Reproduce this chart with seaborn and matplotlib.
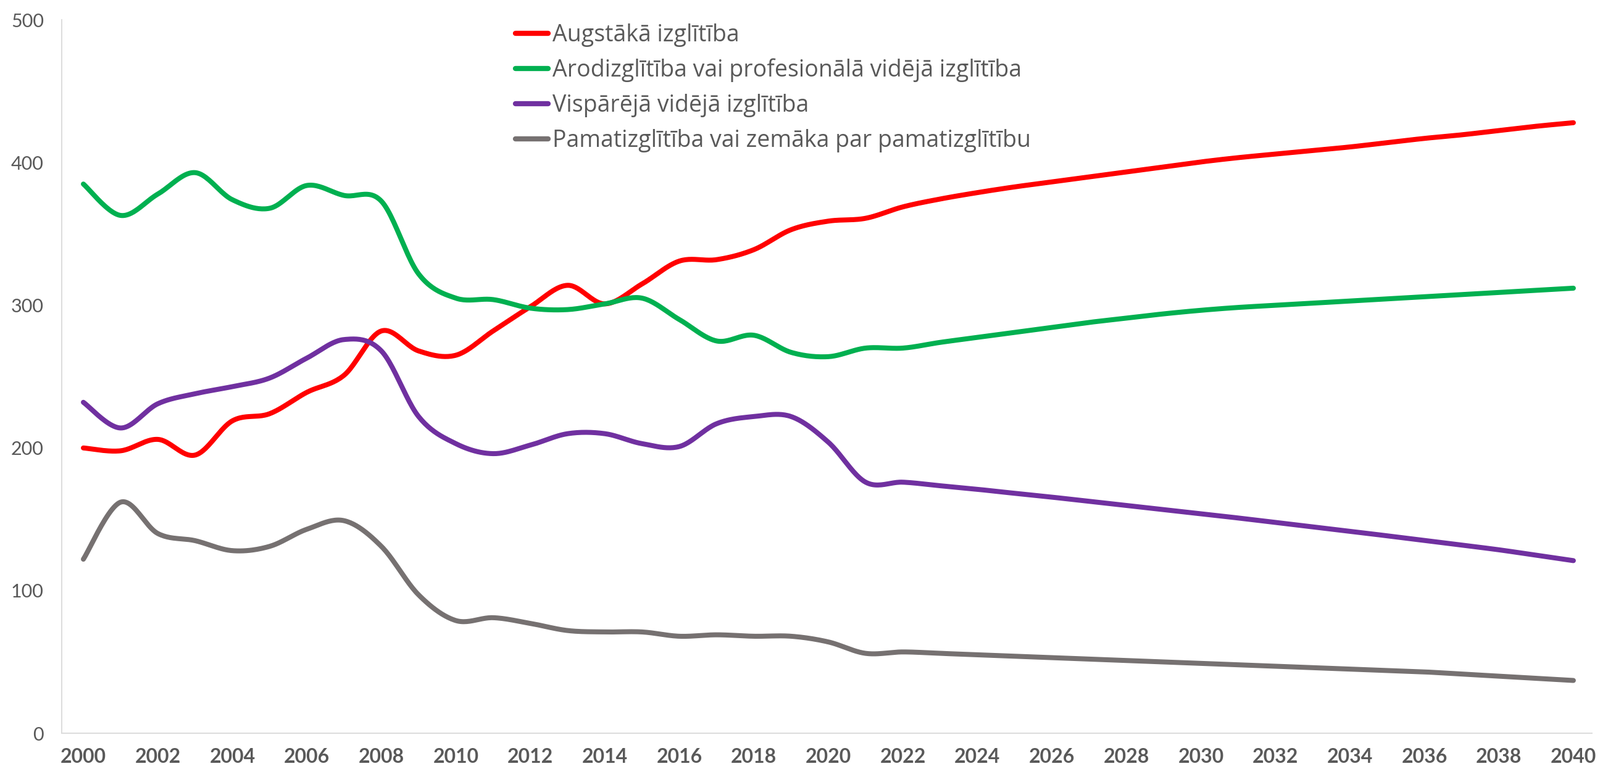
import numpy as np
import pandas as pd
import matplotlib
matplotlib.use("Agg")
import matplotlib.pyplot as plt
import seaborn as sns

years = list(range(2000, 2041))

augstaka = [200, 198, 206, 195, 219, 224, 239, 251, 282, 268, 265, 282, 299, 314, 301, 315, 331, 332, 339, 353, 359, 361, 369, 374.5, 379,
            383, 386.5, 390, 393.5, 397, 400.5, 403.5, 406, 408.5, 411, 414, 417, 419.5, 422.5, 425.5, 428]
arodizglitiba = [385, 363, 378, 393, 374, 368, 384, 377, 373, 322, 305, 304, 298, 297, 301, 305, 290, 275, 279, 267, 264, 270, 270, 274, 277.5,
                 281, 284.5, 288, 291, 294, 296.5, 298.5, 300, 301.5, 303, 304.5, 306, 307.5, 309, 310.5, 312]
visparejo = [232, 214, 231, 238, 243, 249, 263, 276, 268, 222, 203, 196, 202, 210, 210, 203, 201, 217, 222, 222, 204, 176, 176, 173.5, 171,
             168.2, 165.5, 162.6, 159.7, 156.8, 153.9, 150.9, 147.8, 144.7, 141.6, 138.4, 135.2, 131.9, 128.6, 124.8, 121]
pamata = [122, 162, 140, 135, 128, 131, 143, 149, 131, 97, 79, 81, 77, 72, 71, 71, 68, 69, 68, 68, 64, 56, 57, 56, 55,
          54, 53, 52, 51, 50, 49, 48, 47, 46, 45, 44, 43, 41.5, 40, 38.5, 37]

series_names = [
    "Augstākā izglītība",
    "Arodizglītība vai profesionālā vidējā izglītība",
    "Vispārējā vidējā izglītība",
    "Pamatizglītība vai zemāka par pamatizglītību",
]
series_values = [augstaka, arodizglitiba, visparejo, pamata]
colors = ["#FF0000", "#00B050", "#7030A0", "#767171"]


def smooth(x, y, n=24):
    """Excel-like smoothed line (Catmull-Rom Bezier through every point)."""
    x = np.asarray(x, float)
    y = np.asarray(y, float)
    xs, ys = [], []
    for i in range(len(x) - 1):
        p0 = (x[i - 1], y[i - 1]) if i > 0 else (x[i], y[i])
        p1 = (x[i], y[i])
        p2 = (x[i + 1], y[i + 1])
        p3 = (x[i + 2], y[i + 2]) if i + 2 < len(x) else (x[i + 1], y[i + 1])
        c1 = (p1[0] + (p2[0] - p0[0]) / 6, p1[1] + (p2[1] - p0[1]) / 6)
        c2 = (p2[0] - (p3[0] - p1[0]) / 6, p2[1] - (p3[1] - p1[1]) / 6)
        t = np.linspace(0, 1, n, endpoint=(i == len(x) - 2))
        b0 = (1 - t) ** 3
        b1 = 3 * (1 - t) ** 2 * t
        b2 = 3 * (1 - t) * t ** 2
        b3 = t ** 3
        xs.append(b0 * p1[0] + b1 * c1[0] + b2 * c2[0] + b3 * p2[0])
        ys.append(b0 * p1[1] + b1 * c1[1] + b2 * c2[1] + b3 * p2[1])
    return np.concatenate(xs), np.concatenate(ys)


frames = []
for name, vals in zip(series_names, series_values):
    sx, sy = smooth(years, vals)
    frames.append(pd.DataFrame({"year": sx, "value": sy, "series": name}))
df = pd.concat(frames, ignore_index=True)

sns.set_theme(style="white")
plt.rcParams["font.family"] = ["Lato", "DejaVu Sans"]

fig = plt.figure(figsize=(25.92, 12.46), dpi=100)
ax = fig.add_axes([0.0386, 0.0465, 0.9564, 0.9275])

sns.lineplot(data=df, x="year", y="value", hue="series", hue_order=series_names,
             palette=colors, linewidth=5.8, estimator=None, sort=False, ax=ax)

ax.set_xlim(1999.42, 2040.5)
ax.set_ylim(0, 500)
ax.set_xticks(list(range(2000, 2041, 2)))
ax.set_yticks([0, 100, 200, 300, 400, 500])
ax.set_xlabel("")
ax.set_ylabel("")

for s in ["top", "right"]:
    ax.spines[s].set_visible(False)
for s in ["left", "bottom"]:
    ax.spines[s].set_color("#D9D9D9")
    ax.spines[s].set_linewidth(1.3)

ax.tick_params(axis="y", length=0, pad=21, labelsize=22, labelcolor="#595959")
ax.tick_params(axis="x", length=0, pad=17, labelsize=23, labelcolor="#595959")
for lab in ax.get_xticklabels():
    lab.set_fontweight("bold")

handles, labels = ax.get_legend_handles_labels()
for h in handles:
    h.set_linewidth(6)
leg = ax.legend(handles, labels, loc="upper left", bbox_to_anchor=(835 / 2592, 1 - 38 / 1246),
                bbox_transform=fig.transFigure, frameon=False,
                prop={"family": ["Open Sans", "DejaVu Sans"], "size": 27},
                handlelength=1.4, handletextpad=0.2, labelspacing=0.5, borderpad=0, borderaxespad=0)
for t in leg.get_texts():
    t.set_color("#595959")

fig.savefig("out.png", dpi=100)
